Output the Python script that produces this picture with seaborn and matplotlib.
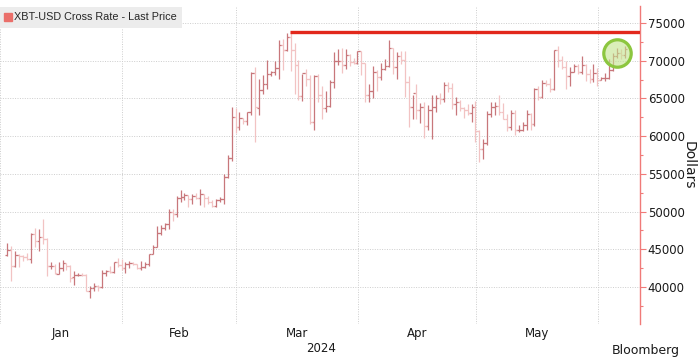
import numpy as np
import pandas as pd
import matplotlib
matplotlib.use("Agg")
import matplotlib.pyplot as plt
import matplotlib.transforms as mtransforms
from matplotlib.lines import Line2D
from matplotlib.ticker import MultipleLocator
import seaborn as sns

# daily OHLC, XBT-USD, Jan 2 - Jun 7 2024
jan_open = [44190, 44960, 42850, 44190, 44160, 43990, 43740, 46970, 46120, 46660, 46350, 42840, 42840, 41740, 42500,
            43130, 42740, 41280, 41660, 41660, 41550, 39510, 39880, 40080, 39940, 41820, 42120, 42030, 43300, 42950]
jan_high = [45880, 45500, 44730, 44350, 44230, 44500, 47210, 47890, 47650, 48970, 46500, 43350, 43080, 43330, 43550,
            43200, 42930, 42130, 41870, 41840, 41680, 40130, 40520, 40260, 42200, 42200, 42810, 43300, 43840, 43740]
jan_low = [44150, 40810, 42630, 42630, 43440, 43600, 43210, 45240, 44750, 45680, 41500, 42450, 41760, 41720, 42080,
           42200, 40680, 40300, 41500, 41450, 39490, 38560, 39530, 39480, 39830, 41400, 41880, 41820, 42710, 42310]
jan_close = [44950, 42850, 44180, 44160, 43990, 43740, 46970, 46130, 46630, 46370, 42850, 42840, 41800, 42510, 43150,
             42740, 41260, 41620, 41660, 41550, 39510, 39850, 40080, 39940, 41820, 42120, 42040, 43300, 42950, 42580]

feb_open = [42570, 43080, 43190, 42990, 42580, 42660, 43090, 44330, 45300, 47150, 47770, 48290, 49940, 49700, 51810,
            51940, 52160, 51660, 52130, 51780, 52280, 51850, 51300, 50730, 51570, 51730, 54520, 57070, 62500]
feb_high = [43260, 43420, 43360, 43100, 43490, 43340, 44370, 45580, 48150, 48160, 48520, 50280, 50340, 52040, 52820,
            52520, 52170, 52360, 52490, 52940, 52360, 52010, 51490, 51680, 51950, 54940, 57540, 63910, 63680]
feb_low = [41890, 42580, 42870, 42330, 42260, 42570, 42780, 44330, 45250, 46870, 47560, 47730, 48730, 49300, 51330,
           51580, 50630, 51020, 51680, 50810, 50670, 50990, 50590, 50600, 51290, 50940, 54480, 56740, 60380]
feb_close = [43080, 43190, 42990, 42580, 42660, 43090, 44320, 45300, 47150, 47770, 48290, 49960, 49700, 51800, 51940,
             52160, 51660, 52120, 51780, 52280, 51840, 51300, 50730, 51570, 51730, 54520, 57090, 62500, 61200]

mar_open = [61170, 62430, 62030, 63140, 68340, 63780, 66100, 66940, 68300, 68500, 69020, 72130, 71480, 73080, 71390,
            69400, 65320, 68370, 67550, 61910, 67910, 65490, 63780, 64060, 67230, 69960, 69990, 69450, 70740, 69890, 69650]
mar_high = [63160, 62460, 63230, 68530, 69170, 67640, 68060, 70080, 68670, 69920, 72750, 72830, 73650, 73780, 72360,
            70060, 68230, 68920, 68100, 68110, 68200, 66620, 65930, 67470, 71160, 71500, 71710, 71570, 70930, 70340, 71340]
mar_low = [60800, 61660, 61440, 62790, 59220, 62850, 65650, 66270, 68020, 68160, 67520, 68730, 71340, 68650, 65630,
           64790, 64600, 66600, 61560, 60810, 64580, 62330, 63250, 63830, 66410, 69380, 68380, 68940, 69260, 69600, 69620]
mar_close = [62440, 62030, 63170, 68330, 63800, 66110, 66930, 68300, 68500, 69020, 72120, 71480, 73080, 71400, 69400,
             65320, 68390, 67550, 61910, 67910, 65490, 63780, 64060, 67230, 69960, 69990, 69450, 70740, 69890, 69650, 71330]

apr_open = [71330, 69700, 65450, 65980, 68510, 67840, 68900, 69360, 71620, 69140, 70590, 70060, 67200, 63820, 65740,
            63430, 63810, 61280, 63470, 63820, 64990, 64930, 66840, 66410, 64280, 64500, 63760, 63420, 63110, 63840]
apr_high = [71340, 69710, 66900, 69290, 68720, 69630, 70280, 72720, 71740, 71170, 71260, 71230, 67930, 65390, 66870,
            64360, 64490, 64090, 65450, 65420, 65700, 67200, 67200, 67070, 65250, 64800, 63920, 64320, 64230, 64700]
apr_low = [68110, 64570, 64500, 65100, 66010, 67490, 68830, 69100, 68210, 67520, 69580, 65250, 61150, 62300, 62330,
           61790, 59770, 60830, 59600, 63200, 64300, 64550, 65900, 63620, 62810, 63340, 62440, 62800, 61820, 59190]
apr_close = [69700, 65450, 65980, 68510, 67840, 68900, 69360, 71620, 69140, 70590, 70060, 67200, 63820, 65740, 63430,
             63810, 61280, 63470, 63820, 64990, 64930, 66840, 66410, 64280, 64500, 63760, 63420, 63110, 63840, 60640]

may_open = [60640, 58250, 59120, 62890, 63890, 64030, 63160, 62330, 61190, 63080, 60790, 60790, 61450, 62900, 61550,
            66270, 65230, 67050, 66940, 66280, 71450, 70140, 69120, 67930, 68530, 69260, 68500, 69390, 68300, 67580, 68360]
may_high = [60780, 59600, 63320, 64500, 64500, 65490, 64390, 62990, 63400, 63450, 61490, 61820, 63420, 63100, 66440,
            66700, 67400, 67420, 67660, 71480, 71950, 70600, 70000, 69230, 69570, 69500, 70600, 69560, 68900, 69500, 69000]
may_low = [56550, 56940, 58850, 62600, 62780, 62780, 62320, 60650, 60780, 60210, 60560, 60640, 60780, 60880, 61350,
           64830, 65110, 66650, 65850, 66090, 69200, 68900, 66300, 66600, 68530, 68200, 68200, 67300, 67100, 67150, 66670]
may_close = [58250, 59120, 62890, 63890, 64030, 63160, 62330, 61190, 63080, 60790, 60790, 61450, 62900, 61550, 66270,
             65230, 67050, 66940, 66280, 71450, 70140, 69120, 67930, 68530, 69260, 68500, 69390, 68300, 67580, 68360, 67490]

jun_open = [67490, 67700, 67750, 68800, 70560, 71080, 70790]
jun_high = [67860, 68400, 70200, 71050, 71700, 71600, 71950]
jun_low = [67390, 67300, 67600, 68600, 70400, 70200, 70350]
jun_close = [67700, 67750, 68800, 70560, 71080, 70790, 71500]

month_names = ["Jan", "Feb", "Mar", "Apr", "May"]
month_starts = ["2024-01-01", "2024-02-01", "2024-03-01", "2024-04-01", "2024-05-01", "2024-06-01"]
y_ticks = [40000, 45000, 50000, 55000, 60000, 65000, 70000, 75000]
series_name = "XBT-USD Cross Rate - Last Price"

df = pd.DataFrame({
    "date": pd.date_range("2024-01-02", "2024-06-07", freq="D"),
    "open": jan_open + feb_open + mar_open + apr_open + may_open + jun_open,
    "high": jan_high + feb_high + mar_high + apr_high + may_high + jun_high,
    "low": jan_low + feb_low + mar_low + apr_low + may_low + jun_low,
    "close": jan_close + feb_close + mar_close + apr_close + may_close + jun_close,
})
base = pd.Timestamp("2024-01-01")
df["x"] = (df["date"] - base).dt.days + 0.9

DARK = "#c8777b"
LIGHT = "#f2c3c3"
AXRED = "#f07a78"

sns.set_theme(style="white")
plt.rcParams["font.family"] = ["DejaVu Sans"]

fig = plt.figure(figsize=(7, 3.58), dpi=100)
ax = fig.add_axes([0, 1 - 324 / 358, 640 / 700, 318 / 358])

cols = np.where(df["close"] >= df["open"], DARK, LIGHT)
ax.vlines(df["x"], df["low"], df["high"], colors=cols, lw=0.9, zorder=3)
ax.hlines(df["open"], df["x"] - 0.6, df["x"], colors=cols, lw=0.9, zorder=3)
ax.hlines(df["close"], df["x"], df["x"] + 0.6, colors=cols, lw=0.9, zorder=3)

xmin, xmax = 1.53, 162.74
ax.set_xlim(xmin, xmax)
ax.set_ylim(35100, 77250)

# record high line
top = df["high"].idxmax()
ax.hlines(df.loc[top, "high"], df.loc[top, "x"] - 0.2, xmax, color="#e2281c", lw=2.4, zorder=4)

# circle on latest bars
last = df.tail(3)
circ = pd.DataFrame({"x": [last["x"].iloc[0]], "y": [(last["high"].mean() + last["low"].mean()) / 2]})
sns.scatterplot(data=circ, x="x", y="y", ax=ax, s=390, marker="o",
                facecolor=(0.76, 0.89, 0.55, 0.6), edgecolor="#8cc63f", linewidth=2.3, zorder=5, legend=False)

# axes styling
starts = [(pd.Timestamp(d) - base).days for d in month_starts]
mids = [(a + b) / 2 for a, b in zip(starts[:-1], starts[1:])]
ax.set_xticks(starts)
ax.set_xticklabels([""] * len(starts))
ax.set_xticks(mids, minor=True)
ax.set_xticklabels(month_names, minor=True)
ax.tick_params(axis="x", which="both", length=0, labelsize=8.5, labelcolor="#1a1a1a", pad=2.5)

ax.yaxis.tick_right()
ax.yaxis.set_label_position("right")
ax.set_yticks(y_ticks)
ax.set_yticklabels([str(v) for v in y_ticks])
ax.yaxis.set_minor_locator(MultipleLocator(2500))
ax.tick_params(axis="y", which="major", direction="out", length=4, width=0.8, color=AXRED,
               labelsize=8.5, labelcolor="#1a1a1a", pad=1.5)
ax.tick_params(axis="y", which="minor", direction="out", length=2.5, width=0.8, color=AXRED)
ax.set_ylabel("Dollars", rotation=270, fontsize=10, ha="center", va="center", color="#1a1a1a")
ax.yaxis.set_label_coords(689 / 640, 0.5)

for s in ["left", "top", "bottom"]:
    ax.spines[s].set_visible(False)
ax.spines["right"].set_color(AXRED)
ax.spines["right"].set_linewidth(1.0)

ax.grid(True, which="major", axis="both", color="#cdcdcd", linestyle=(0, (1, 1.5)), lw=0.7)
ax.set_axisbelow(True)
ax.set_xlabel("")

trans = mtransforms.blended_transform_factory(ax.transData, ax.transAxes)
ax.text(81.6, -0.0755, "2024", transform=trans, ha="center", va="center", fontsize=8.5, color="#1a1a1a")

handle = Line2D([], [], marker="s", ls="", color="#ea6f6a", markersize=5.5)
leg = ax.legend([handle], [series_name], loc="upper left", bbox_to_anchor=(0, 1 - 1 / 318),
                borderaxespad=0, frameon=True, fancybox=False, framealpha=1, handlelength=0.5,
                handletextpad=0.25, borderpad=0.5, prop={"family": "Liberation Sans", "size": 7.8})
leg.get_frame().set_facecolor("#ececec")
leg.get_frame().set_edgecolor("none")

fig.text(612 / 700, 0.004, "Bloomberg", ha="left", va="bottom", fontsize=9, color="#1a1a1a")

fig.savefig("out.png", dpi=100)
